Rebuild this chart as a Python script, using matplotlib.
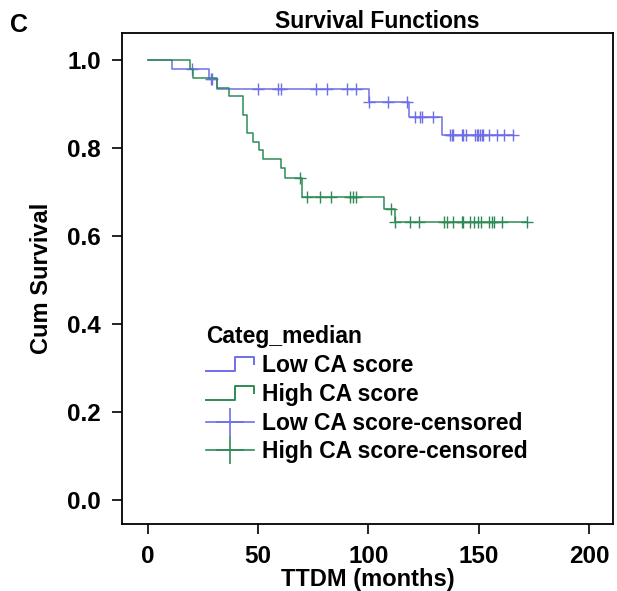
import numpy as np
import matplotlib
matplotlib.use("Agg")
import matplotlib.pyplot as plt
from matplotlib.lines import Line2D
from matplotlib.legend_handler import HandlerBase

plt.rcParams['font.family'] = ['Liberation Sans', 'DejaVu Sans']
plt.rcParams['font.weight'] = 'bold'

# ============================================
# DATOS
# ============================================

grupos = ["Low CA score", "High CA score"]
colores = ["#6e6eea", "#2e8b57"]

# grupo bajo: tiempos de evento y supervivencia tras cada caída
low_eventos = [10.9, 27.9, 31.5, 100.3, 118.4, 133.2]
low_surv = [0.979, 0.957, 0.934, 0.904, 0.871, 0.830]
low_censura = [19.9, 28.5, 29.0, 50.1, 59.2, 60.2, 76.3, 81.1, 90.2, 94.3,
               100.3, 109.0, 117.4, 121.1, 123.4, 124.2, 129.2, 137.0, 137.8,
               138.5, 142.3, 143.0, 144.3, 148.3, 149.1, 149.8, 150.6, 151.4,
               152.1, 154.4, 158.2, 161.5, 165.4]

# grupo alto
high_eventos = [19.2, 20.7, 31.3, 37.0, 43.0, 44.9, 47.9, 50.6, 52.4, 60.3,
                62.2, 69.8, 107.2, 112.1]
high_surv = [0.979, 0.958, 0.937, 0.917, 0.875, 0.833, 0.814, 0.795, 0.774,
             0.754, 0.733, 0.688, 0.661, 0.631]
high_censura = [69.0, 72.0, 78.0, 83.0, 91.7, 93.2, 94.5, 110.1, 112.1, 118.9,
                123.1, 134.4, 135.5, 138.5, 142.3, 143.0, 145.8, 147.9, 149.8,
                150.9, 154.8, 155.9, 157.0, 160.4, 171.8]

x_ticks = [0, 50, 100, 150, 200]
y_ticks = [0.0, 0.2, 0.4, 0.6, 0.8, 1.0]

# ============================================
# FUNCIÓN ESCALÓN
# ============================================

def curva(eventos, surv, censura):
    t_fin = max(max(eventos), max(censura))
    tx = np.array([0] + list(eventos) + [t_fin])
    sy = np.array([1.0] + list(surv) + [surv[-1]])
    idx = np.searchsorted(np.array(eventos), np.array(censura), side='right')
    sc = np.concatenate([[1.0], surv])[idx]
    return tx, sy, np.array(censura), sc


class HandlerEscalon(HandlerBase):
    def create_artists(self, legend, orig_handle, xdescent, ydescent,
                       width, height, fontsize, trans):
        xs = np.array([0, 0.6, 0.6, 1.0, 1.0]) * width - xdescent
        ys = np.array([0.05, 0.05, 0.95, 0.95, 0.5]) * height - ydescent
        ln = Line2D(xs, ys, color=orig_handle.get_color(), lw=1.4)
        ln.set_transform(trans)
        return [ln]


# ============================================
# FIGURA
# ============================================

fig = plt.figure(figsize=(6.17, 5.91), dpi=100)
ax = fig.add_axes([0.197, 0.113, 0.797, 0.831])

datos = [
    (low_eventos, low_surv, low_censura),
    (high_eventos, high_surv, high_censura),
]

for (ev, sv, cs), col in zip(datos, colores):
    tx, sy, cx, cy = curva(ev, sv, cs)
    ax.step(tx, sy, where='post', color=col, lw=1.1)
    ax.plot(cx, cy, ls='none', marker='+', ms=9, mew=1.0, color=col)

ax.set_xlim(-11.8, 210.9)
ax.set_ylim(-0.0545, 1.061)
ax.set_xticks(x_ticks)
ax.set_yticks(y_ticks)
ax.set_yticklabels([f"{v:.1f}" for v in y_ticks])

for s in ax.spines.values():
    s.set_linewidth(1.3)

ax.tick_params(direction='out', length=7, width=1.2, labelsize=17.5, pad=8)

ax.set_xlabel("TTDM (months)", fontsize=17, fontweight='bold', labelpad=0)
ax.set_ylabel("Cum Survival", fontsize=17, fontweight='bold', labelpad=10)

fig.text(377 / 617, 1 - 28 / 591, "Survival Functions", ha='center',
         va='baseline', fontsize=16.5, fontweight='bold')
fig.text(10 / 617, 1 - 32 / 591, "C", ha='left', va='baseline',
         fontsize=18, fontweight='bold')

# ============================================
# LEYENDA
# ============================================

h_low = Line2D([], [], color=colores[0])
h_high = Line2D([], [], color=colores[1])
h_low_c = Line2D([], [], color=colores[0], marker='+', ms=20, mew=1.2, lw=1.2)
h_high_c = Line2D([], [], color=colores[1], marker='+', ms=20, mew=1.2, lw=1.2)

etiquetas = [g for g in grupos] + [g + "-censored" for g in grupos]

leg = ax.legend(
    [h_low, h_high, h_low_c, h_high_c],
    etiquetas,
    handler_map={h_low: HandlerEscalon(), h_high: HandlerEscalon()},
    title="Categ_median",
    loc='upper left',
    bbox_to_anchor=(0.149, 0.428),
    frameon=False,
    borderpad=0,
    fontsize=16.5,
    title_fontsize=16.5,
    handlelength=2.1,
    handletextpad=0.35,
    labelspacing=0.25,
    alignment='left',
    numpoints=1,
)
leg.get_title().set_fontweight('bold')

fig.savefig("out.png", dpi=100)
